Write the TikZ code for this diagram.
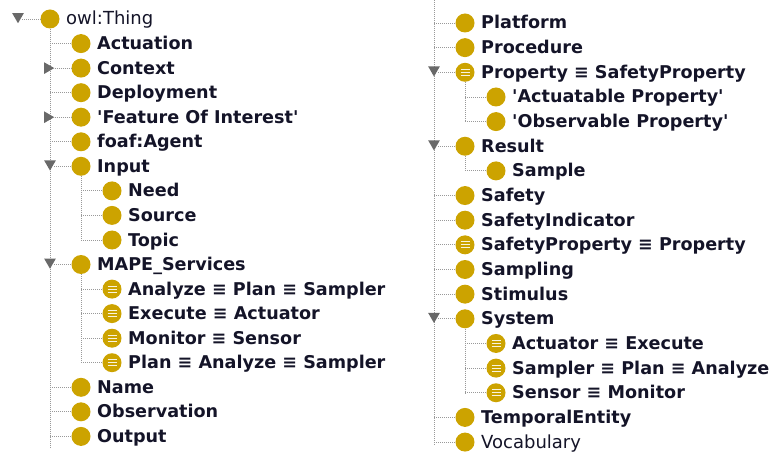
\documentclass[tikz,border=0pt]{standalone}
\usepackage{fontspec}
\setmainfont{DejaVu Sans}[Ligatures=TeXOff]
\usetikzlibrary{shapes.geometric}
\definecolor{gold}{RGB}{204,163,0}
\definecolor{txt}{RGB}{20,20,40}
\definecolor{tri}{RGB}{105,105,105}
\tikzset{
  x=1pt, y=-1pt,
  cl/.style={circle, fill=gold, minimum size=19pt, inner sep=0pt},
  eq/.style={cl, path picture={
     \foreach \dy in {-3,0,3}{\draw[white!88!gold, line width=1.1pt]
       ([xshift=-4.5pt,yshift=\dy pt]path picture bounding box.center) -- ++(9pt,0);}}},
  lbl/.style={anchor=base west, inner sep=0pt, text=txt, font=\fontsize{17.6}{20}\selectfont\bfseries},
  rlbl/.style={lbl, font=\fontsize{18}{20}\selectfont},
  tree/.style={draw=gray!80, line width=0.8pt, dash pattern=on 1pt off 1pt},
  tdown/.style={regular polygon, regular polygon sides=3, shape border rotate=180,
     fill=tri, minimum size=13.5pt, inner sep=0pt},
  tright/.style={regular polygon, regular polygon sides=3, shape border rotate=-90,
     fill=tri, minimum size=13.5pt, inner sep=0pt},
}
\newcommand\clsnode[6]{% name, parent, x, y, style, text
  \node[#5] (c#1) at (#3,#4) {};
  \node[lbl] (t#1) at ({#3+16},{#4+6}) {#6};
  \draw[tree] (c#1 -| #2) -- (c#1.west);
}
\newcommand\clsnodeT[6]{% name, unused, x, y, style, text (triangle drawn separately)
  \node[#5] (c#1) at (#3,#4) {};
  \node[lbl] (t#1) at ({#3+16},{#4+6}) {#6};
}
\begin{document}
\begin{tikzpicture}
\useasboundingbox (0,0) rectangle (778,454);
% ---------------- left column ----------------
\node[cl] (cthing) at (50,19) {};
\node[rlbl] (tthing) at (66,25) {owl:Thing};
\node[tdown] (trthing) at (18,16.5) {};
\draw[tree] (trthing.east |- cthing) -- (cthing.west);
\coordinate (lbot) at (50,447);
\draw[tree] (cthing.south) -- (lbot);

\clsnode{act}{cthing}{81}{43.6}{cl}{Actuation}
\clsnodeT{ctx}{}{81}{68.1}{cl}{Context}
\node[tright] (trctx) at (47.5,68.1) {};
\draw[tree] (trctx.east |- cctx) -- (cctx.west);
\clsnode{dep}{cthing}{81}{92.7}{cl}{Deployment}
\clsnodeT{foi}{}{81}{117.2}{cl}{'Feature Of Interest'}
\node[tright] (trfoi) at (47.5,117.2) {};
\draw[tree] (trfoi.east |- cfoi) -- (cfoi.west);
\clsnode{agent}{cthing}{81}{141.8}{cl}{foaf:Agent}
\clsnodeT{input}{}{81}{166.3}{cl}{Input}
\node[tdown] (trinput) at (50,163.8) {};
\draw[tree] (trinput.east |- cinput) -- (cinput.west);
\clsnode{need}{cinput}{112}{190.9}{cl}{Need}
\clsnode{source}{cinput}{112}{215.4}{cl}{Source}
\clsnode{topic}{cinput}{112}{240}{cl}{Topic}
\draw[tree] (cinput.south) -- (ctopic -| cinput);
\clsnodeT{mape}{}{81}{264.5}{cl}{MAPE\_Services}
\node[tdown] (trmape) at (50,262) {};
\draw[tree] (trmape.east |- cmape) -- (cmape.west);
\clsnode{anl}{cmape}{112}{289.1}{eq}{Analyze ≡ Plan ≡ Sampler}
\clsnode{exe}{cmape}{112}{313.6}{eq}{Execute ≡ Actuator}
\clsnode{mon}{cmape}{112}{338.2}{eq}{Monitor ≡ Sensor}
\clsnode{plan}{cmape}{112}{362.7}{eq}{Plan ≡ Analyze ≡ Sampler}
\draw[tree] (cmape.south) -- (cplan -| cmape);
\clsnode{name}{cthing}{81}{387.3}{cl}{Name}
\clsnode{obs}{cthing}{81}{411.8}{cl}{Observation}
\clsnode{out}{cthing}{81}{436.4}{cl}{Output}
% ---------------- right column ----------------
\coordinate (rtop) at (434,0);
\coordinate (rbot) at (434,446);
\draw[tree] (rtop) -- (rbot);
\clsnode{plat}{rtop}{465}{23}{cl}{Platform}
\clsnode{proc}{rtop}{465}{47.65}{cl}{Procedure}
\clsnodeT{prop}{}{465}{72.3}{eq}{Property ≡ SafetyProperty}
\node[tdown] (trprop) at (434,69.8) {};
\draw[tree] (trprop.east |- cprop) -- (cprop.west);
\clsnode{actp}{cprop}{496}{97}{cl}{'Actuatable Property'}
\clsnode{obsp}{cprop}{496}{121.6}{cl}{'Observable Property'}
\draw[tree] (cprop.south) -- (cobsp -| cprop);
\clsnodeT{res}{}{465}{146.25}{cl}{Result}
\node[tdown] (trres) at (434,143.75) {};
\draw[tree] (trres.east |- cres) -- (cres.west);
\clsnode{sample}{cres}{496}{170.9}{cl}{Sample}
\draw[tree] (cres.south) -- (csample -| cres);
\clsnode{safety}{rtop}{465}{195.55}{cl}{Safety}
\clsnode{sind}{rtop}{465}{220.2}{cl}{SafetyIndicator}
\clsnode{sprop}{rtop}{465}{244.85}{eq}{SafetyProperty ≡ Property}
\clsnode{sampling}{rtop}{465}{269.5}{cl}{Sampling}
\clsnode{stim}{rtop}{465}{294.15}{cl}{Stimulus}
\clsnodeT{sys}{}{465}{318.8}{cl}{System}
\node[tdown] (trsys) at (434,316.3) {};
\draw[tree] (trsys.east |- csys) -- (csys.west);
\clsnode{actu}{csys}{496}{343.45}{eq}{Actuator ≡ Execute}
\clsnode{sampler}{csys}{496}{368.1}{eq}{Sampler ≡ Plan ≡ Analyze}
\clsnode{sensor}{csys}{496}{392.75}{eq}{Sensor ≡ Monitor}
\draw[tree] (csys.south) -- (csensor -| csys);
\clsnode{temp}{rtop}{465}{417.4}{cl}{TemporalEntity}
\node[cl] (cvoc) at (465,442.05) {};
\node[rlbl] (tvoc) at (481,448.05) {Vocabulary};
\draw[tree] (cvoc -| rtop) -- (cvoc.west);
\end{tikzpicture}
\end{document}
